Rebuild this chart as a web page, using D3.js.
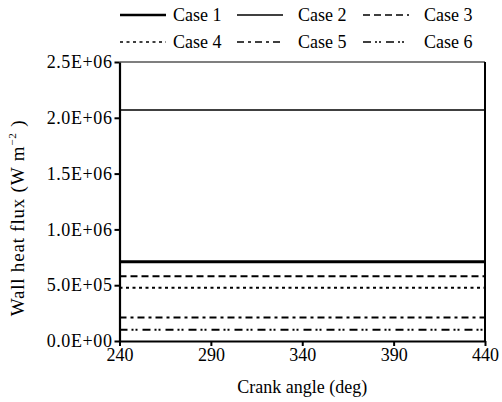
<!DOCTYPE html>
<html>
<head>
<meta charset="utf-8">
<script src="https://cdn.jsdelivr.net/npm/d3@7"></script>
<style>
  body { margin: 0; background: #fff; }
</style>
</head>
<body>
<div class="d3-wrapper"></div>
<script>
const WIDTH = 502, HEIGHT = 402;
const PLOT = { left: 119.5, right: 485, top: 62, bottom: 341 };
const FONT = "'Liberation Serif', 'DejaVu Serif', 'Times New Roman', serif";

// data
const caseNames = ['Case 1', 'Case 2', 'Case 3', 'Case 4', 'Case 5', 'Case 6'];
const crankAngles = [240, 440];
const case1 = [7.1e5, 7.1e5];
const case2 = [2.07e6, 2.07e6];
const case3 = [5.8e5, 5.8e5];
const case4 = [4.78e5, 4.78e5];
const case5 = [2.1e5, 2.1e5];
const case6 = [1.0e5, 1.0e5];
const seriesValues = [case1, case2, case3, case4, case5, case6];
const xTicks = [240, 290, 340, 390, 440];
const yTicks = [0, 5e5, 1e6, 1.5e6, 2e6, 2.5e6];

// line styles per case
const styles = [
  { width: 3, dash: null },
  { width: 1.3, dash: null },
  { width: 2, dash: '7,4' },
  { width: 2, dash: '3,3.5' },
  { width: 2, dash: '7,4,3,4' },
  { width: 2, dash: '8,4,2,2,2,5' }
];

const xScale = d3.scaleLinear().domain([240, 440]).range([PLOT.left, PLOT.right]);
const yScale = d3.scaleLinear().domain([0, 2.5e6]).range([PLOT.bottom, PLOT.top]);

const sci = d => {
  if (d === 0) return '0.0E+00';
  const [m, e] = d.toExponential(1).split('e');
  const n = Math.abs(+e);
  return m + 'E' + (+e < 0 ? '-' : '+') + (n < 10 ? '0' + n : n);
};

const svg = d3.select('.d3-wrapper').append('svg')
  .attr('width', WIDTH)
  .attr('height', HEIGHT)
  .style('font-family', FONT);

// top and right frame
svg.append('line')
  .attr('x1', PLOT.left).attr('x2', PLOT.right)
  .attr('y1', PLOT.top).attr('y2', PLOT.top)
  .attr('stroke', '#000').attr('stroke-width', 1.2);
svg.append('line')
  .attr('x1', PLOT.right).attr('x2', PLOT.right)
  .attr('y1', PLOT.top).attr('y2', PLOT.bottom)
  .attr('stroke', '#000').attr('stroke-width', 2);

// series
const line = d3.line().x(d => xScale(d[0])).y(d => yScale(d[1]));
seriesValues.forEach((vals, i) => {
  svg.append('path')
    .datum(crankAngles.map((a, j) => [a, vals[j]]))
    .attr('fill', 'none')
    .attr('stroke', '#000')
    .attr('stroke-width', styles[i].width)
    .attr('stroke-dasharray', styles[i].dash)
    .attr('d', line);
});

// axes
const xAxis = d3.axisBottom(xScale).tickValues(xTicks).tickFormat(d3.format('d'))
  .tickSizeInner(5).tickSizeOuter(0).tickPadding(2);
const yAxis = d3.axisLeft(yScale).tickValues(yTicks).tickFormat(sci)
  .tickSizeInner(5).tickSizeOuter(0).tickPadding(2);

const gx = svg.append('g')
  .attr('transform', `translate(0,${PLOT.bottom})`)
  .call(xAxis);
const gy = svg.append('g')
  .attr('transform', `translate(${PLOT.left},0)`)
  .call(yAxis);

[gx, gy].forEach(g => {
  g.attr('font-family', FONT).attr('font-size', 18);
  g.select('.domain').attr('stroke-width', 2.2);
  g.selectAll('.tick line').attr('stroke-width', 2);
  g.selectAll('.tick text').attr('fill', '#000');
});
gy.selectAll('.tick text').style('letter-spacing', '0.6px');

// axis titles
svg.append('text')
  .attr('x', (PLOT.left + PLOT.right) / 2)
  .attr('y', 393)
  .attr('text-anchor', 'middle')
  .style('font-size', '18px')
  .text('Crank angle (deg)');

const yTitle = svg.append('text')
  .attr('transform', `translate(24,218) rotate(-90)`)
  .attr('text-anchor', 'middle')
  .style('font-size', '19px')
  .style('letter-spacing', '0.8px');
yTitle.append('tspan').text('Wall heat flux (W m');
yTitle.append('tspan').attr('dy', -8).style('font-size', '11px').text('\u22122');
yTitle.append('tspan').attr('dy', 8).text(' )');

// legend
const legendPos = [
  { x: 120, y: 15 }, { x: 237, y: 15 }, { x: 363, y: 15 },
  { x: 120, y: 42 }, { x: 237, y: 42 }, { x: 363, y: 42 }
];
const legend = svg.selectAll('.legend')
  .data(caseNames)
  .enter().append('g')
  .attr('class', 'legend')
  .attr('transform', (d, i) => `translate(${legendPos[i].x},${legendPos[i].y})`);

legend.append('line')
  .attr('x1', 0).attr('x2', 46)
  .attr('stroke', '#000')
  .attr('stroke-width', (d, i) => i === 0 ? 2.5 : (i === 1 ? 1.3 : 1.6))
  .attr('stroke-dasharray', (d, i) => styles[i].dash);

legend.append('text')
  .attr('x', (d, i) => i % 3 === 0 ? 53 : 61)
  .attr('y', 6)
  .style('font-size', '18px')
  .text(d => d);
</script>
</body>
</html>
